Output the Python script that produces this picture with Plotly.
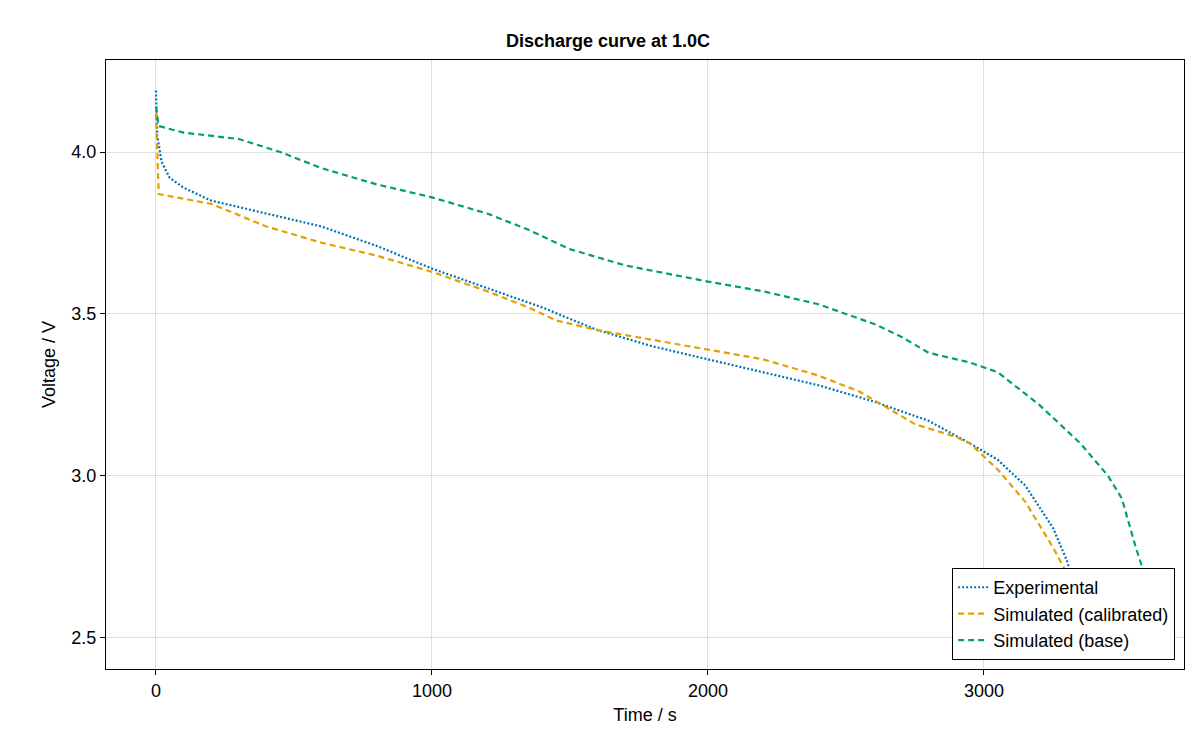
import plotly.graph_objects as go

exp_t = [0,5,20,50,100,200,400,600,800,1000,1200,1400,1600,1800,2000,2200,2400,2600,2800,2950,3050,3150,3250,3300,3350]
exp_v = [4.19,4.05,3.97,3.92,3.89,3.85,3.81,3.77,3.71,3.64,3.58,3.52,3.45,3.40,3.36,3.32,3.28,3.23,3.17,3.10,3.05,2.97,2.84,2.74,2.60]
cal_t = [0,10,200,400,600,800,1000,1200,1350,1450,1600,1800,2000,2200,2400,2550,2650,2750,2900,2950,3050,3150,3250,3300,3350]
cal_v = [4.12,3.87,3.84,3.77,3.72,3.68,3.63,3.57,3.52,3.48,3.45,3.42,3.39,3.36,3.31,3.26,3.21,3.16,3.12,3.10,3.02,2.92,2.78,2.70,2.60]
base_t = [0,10,100,300,450,600,800,1000,1200,1350,1500,1700,2000,2200,2400,2600,2700,2800,2950,3050,3200,3350,3450,3500,3550,3600]
base_v = [4.14,4.08,4.06,4.04,4.00,3.95,3.90,3.86,3.81,3.76,3.70,3.65,3.60,3.57,3.53,3.47,3.43,3.38,3.35,3.32,3.22,3.10,3.00,2.93,2.78,2.65]

fig = go.Figure()
fig.add_trace(go.Scatter(x=exp_t, y=exp_v, mode="lines", name="Experimental",
                         line=dict(color="#0072B2", width=2.2, dash="2px,2px")))
fig.add_trace(go.Scatter(x=cal_t, y=cal_v, mode="lines", name="Simulated (calibrated)",
                         line=dict(color="#E69F00", width=2.2, dash="6px,4px")))
fig.add_trace(go.Scatter(x=base_t, y=base_v, mode="lines", name="Simulated (base)",
                         line=dict(color="#009E73", width=2.2, dash="6px,4px")))

ax = dict(showline=True, mirror=True, linecolor="black", linewidth=1.2,
          gridcolor="rgba(0,0,0,0.12)", zeroline=False, ticks="outside",
          ticklen=5, tickcolor="black", tickfont=dict(size=18), automargin=False)
fig.update_layout(
    width=1200, height=750, plot_bgcolor="white", paper_bgcolor="white",
    font=dict(family="Liberation Sans, Arial", size=18, color="black"),
    title=dict(text="<b>Discharge curve at 1.0C</b>", x=0.5, xanchor="center", y=0.965, font=dict(size=18)),
    margin=dict(l=98, r=24, t=52, b=89, autoexpand=False),
    xaxis=dict(ax, title=dict(text="Time / s", standoff=8, font=dict(size=18)), range=[-181, 3725], tickvals=[0,1000,2000,3000]),
    yaxis=dict(ax, title=dict(text="Voltage / V", standoff=10, font=dict(size=18)), range=[2.404, 4.284], tickvals=[2.5,3.0,3.5,4.0], ticktext=["2.5","3.0","3.5","4.0"]),
    legend=dict(x=0.9916, y=0.015, xanchor="right", yanchor="bottom", bgcolor="white",
                bordercolor="black", borderwidth=1.2, font=dict(size=18), tracegroupgap=8),
)
fig.write_html("out.html")
